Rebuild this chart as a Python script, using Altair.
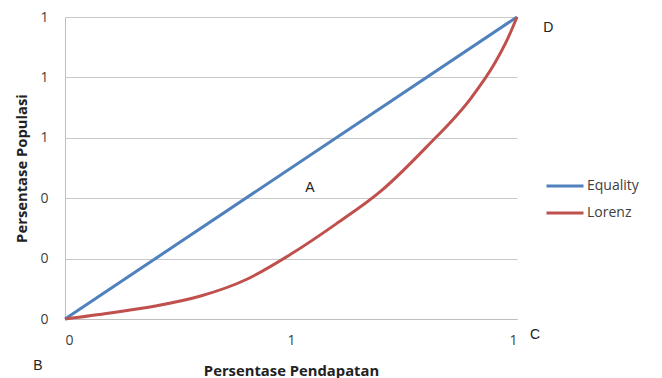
import altair as alt
import pandas as pd

# Lorenz curve values
lorenz_x = [0, 0.1, 0.2, 0.3, 0.4, 0.5, 0.6, 0.7, 0.8, 0.9, 0.95, 0.98, 1.0]
lorenz_y = [0, 0.02, 0.043, 0.076, 0.13, 0.215, 0.315, 0.425, 0.57, 0.735, 0.845, 0.93, 1.0]

# Line of equality
equality_x = [0, 1]
equality_y = [0, 1]

series_names = ["Equality", "Lorenz"]
series_colors = ["#4F81BD", "#C0504D"]

# Point labels
note_text = ["A", "B", "C", "D"]
note_x = [0.542, -0.06, 1.04, 1.069]
note_y = [0.434, -0.156, -0.053, 0.964]

y_ticks = [0, 0.2, 0.4, 0.6, 0.8, 1.0]
x_ticks = [0, 0.5, 1.0]

rows = []
for xv, yv in zip(equality_x, equality_y):
    rows.append({"x": xv, "y": yv, "series": "Equality", "order": xv})
for xv, yv in zip(lorenz_x, lorenz_y):
    rows.append({"x": xv, "y": yv, "series": "Lorenz", "order": xv})
df = pd.DataFrame(rows)

notes = pd.DataFrame({"x": note_x, "y": note_y, "t": note_text})

xscale = alt.Scale(domain=[0, 1], nice=False, zero=False)
yscale = alt.Scale(domain=[0, 1], nice=False, zero=False)

lines = alt.Chart(df).mark_line(strokeWidth=3, interpolate="monotone").encode(
    x=alt.X("x:Q", scale=xscale, axis=alt.Axis(
        title="Persentase Pendapatan", values=x_ticks, labelExpr="round(datum.value)",
        grid=False, ticks=False, domainColor="#BFBFBF", labelPadding=14,
        titlePadding=16)),
    y=alt.Y("y:Q", scale=yscale, axis=alt.Axis(
        title="Persentase Populasi", values=y_ticks, labelExpr="round(datum.value)",
        grid=True, gridColor="#C8C8C8", ticks=False, domainColor="#BFBFBF",
        labelPadding=17, titlePadding=10)),
    color=alt.Color("series:N", scale=alt.Scale(domain=series_names, range=series_colors),
                    legend=alt.Legend(title=None, orient="none", legendX=480, legendY=149,
                                      symbolType="stroke", symbolSize=1369,
                                      symbolStrokeWidth=3, rowPadding=-1,
                                      labelFontSize=14, labelColor="#404040",
                                      labelFont="Open Sans", labelOffset=2)),
    order="order:Q",
)

texts = alt.Chart(notes).mark_text(fontSize=14, font="Liberation Sans", color="#222222",
                                   clip=False).encode(
    x=alt.X("x:Q", scale=xscale),
    y=alt.Y("y:Q", scale=yscale),
    text="t:N",
)

chart = alt.layer(lines, texts).properties(
    width=452, height=302,
    autosize=alt.AutoSizeParams(type="none"),
    padding={"left": 65, "top": 17, "right": 145, "bottom": 59},
).configure_view(stroke=None).configure_axis(
    labelFont="Open Sans", labelFontSize=14, labelColor="#404040",
    titleFont="Open Sans", titleFontSize=14.8, titleFontWeight="bold", titleColor="#222222",
)

chart.save("out.html", embed_options={"renderer": "svg", "actions": False})
